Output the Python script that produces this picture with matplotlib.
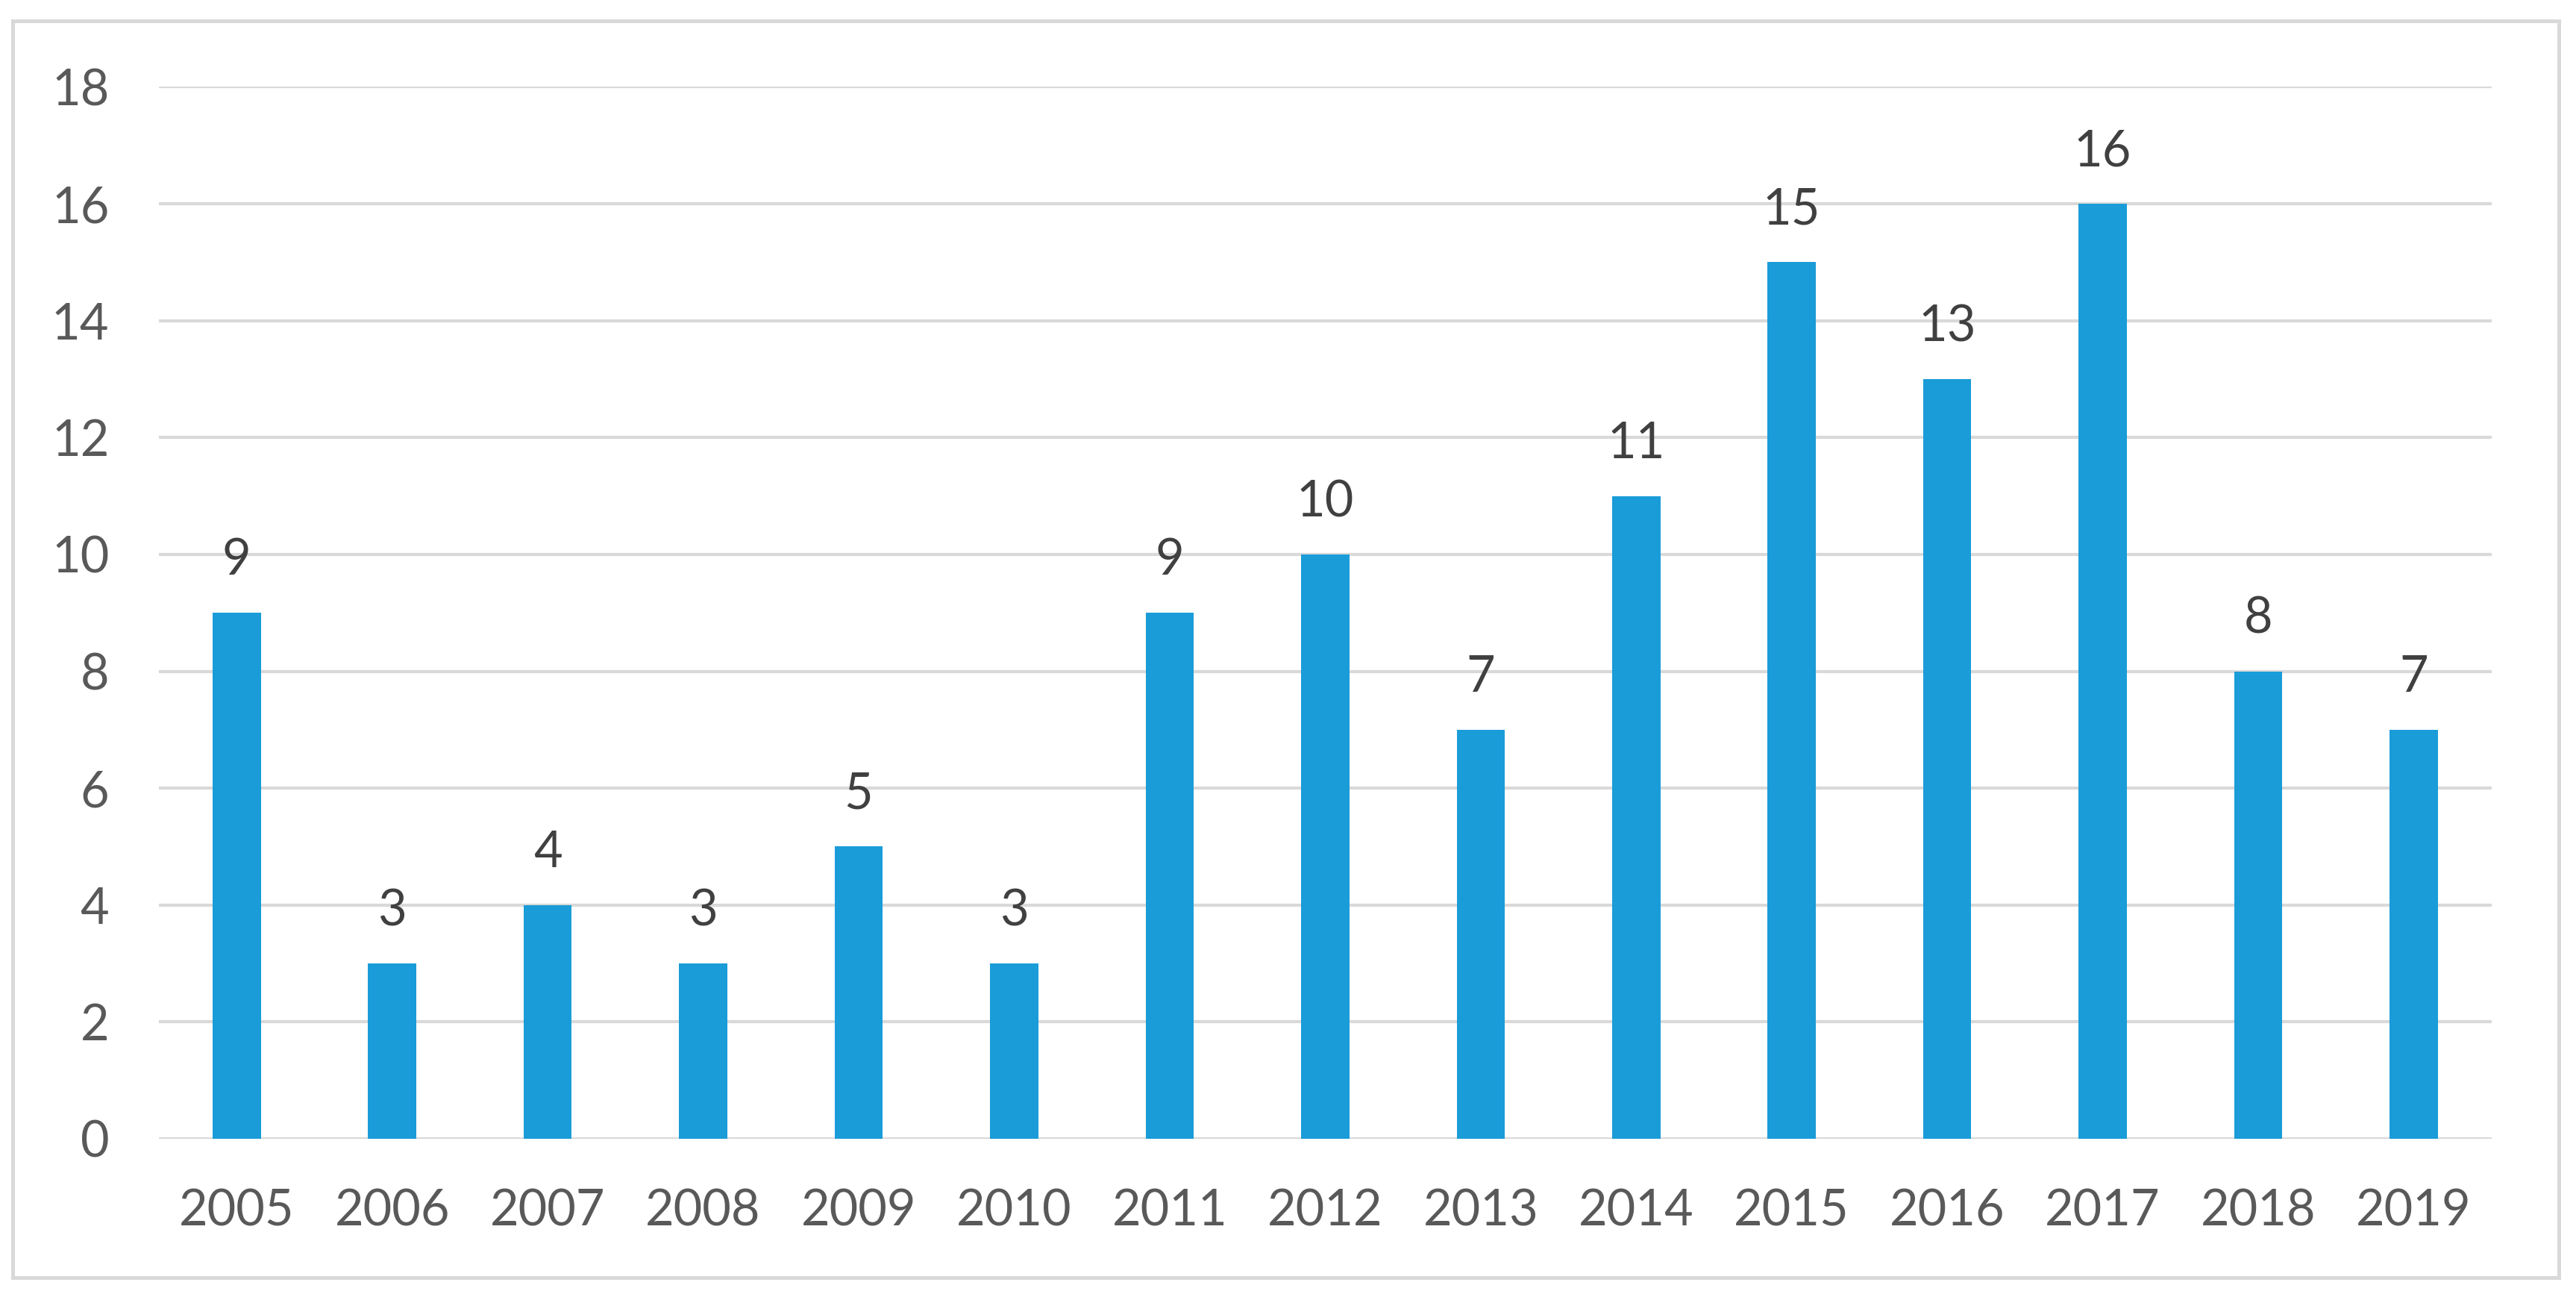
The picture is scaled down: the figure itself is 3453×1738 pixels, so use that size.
"""Yearly counts 2005-2019, Excel-style column chart."""

import matplotlib

matplotlib.use("Agg")
import matplotlib.pyplot as plt
from matplotlib.patches import Rectangle

YEARS = ["2005", "2006", "2007", "2008", "2009", "2010", "2011", "2012",
         "2013", "2014", "2015", "2016", "2017", "2018", "2019"]
COUNTS = [9, 3, 4, 3, 5, 3, 9, 10, 7, 11, 15, 13, 16, 8, 7]
Y_TICKS = [0, 2, 4, 6, 8, 10, 12, 14, 16, 18]

BAR_COLOR = "#1A9CD8"
GRID_COLOR = "#D9D9D9"
TEXT_COLOR = "#595959"
LABEL_COLOR = "#404040"


def main() -> None:
    plt.rcParams["font.family"] = ["Lato", "DejaVu Sans"]
    fig = plt.figure(figsize=(17.265, 8.69), dpi=200)

    # light outer frame, like the chart-area border in Excel
    fig.patches.append(
        Rectangle((0.0049, 0.015), 0.9884, 0.969, transform=fig.transFigure,
                  fill=False, edgecolor=GRID_COLOR, linewidth=1.8)
    )

    ax = fig.add_axes([0.0617, 0.122, 0.9055, 0.811])
    x = list(range(len(YEARS)))
    bars = ax.bar(x, COUNTS, width=0.31, color=BAR_COLOR, zorder=3)

    for bar, v in zip(bars, COUNTS):
        ax.annotate(
            str(v),
            xy=(bar.get_x() + bar.get_width() / 2, bar.get_height()),
            xytext=(0, 14),
            textcoords="offset points",
            ha="center",
            va="bottom",
            fontsize=24,
            color=LABEL_COLOR,
        )

    ax.set_xlim(-0.5, len(YEARS) - 0.5)
    ax.set_ylim(0, 18)
    ax.set_xticks(x)
    ax.set_xticklabels(YEARS)
    ax.set_yticks(Y_TICKS)
    ax.tick_params(axis="both", length=0, labelsize=24, labelcolor=TEXT_COLOR)
    ax.tick_params(axis="x", pad=24)
    ax.tick_params(axis="y", pad=24)

    ax.yaxis.grid(True, color=GRID_COLOR, linewidth=1.5, zorder=0)
    for side in ("top", "right", "left", "bottom"):
        ax.spines[side].set_visible(False)

    fig.savefig("out.png", dpi=200)
    plt.close(fig)


if __name__ == "__main__":
    main()
